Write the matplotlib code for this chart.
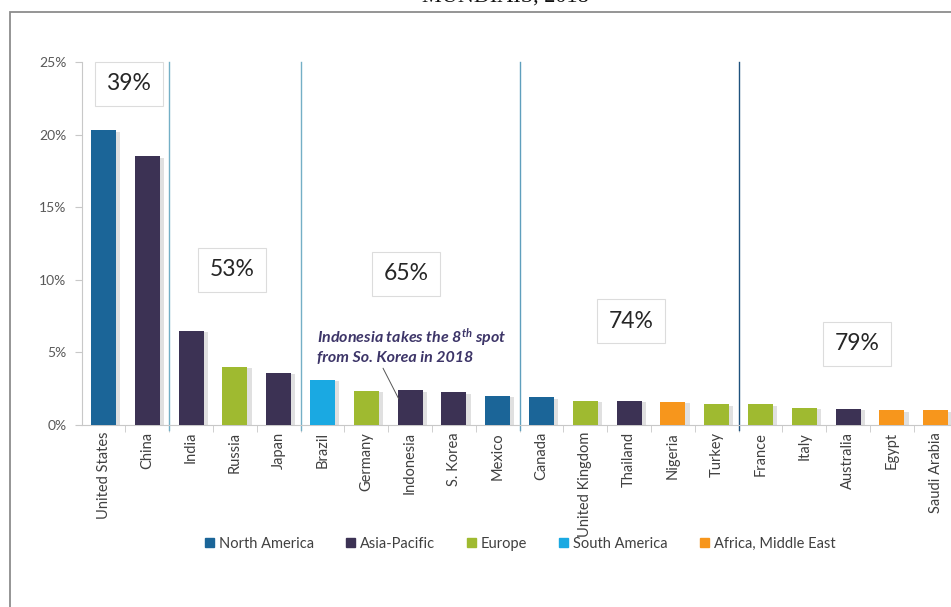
import matplotlib.pyplot as plt
import matplotlib.patheffects as pe
from matplotlib.patches import Rectangle, Patch
from matplotlib.ticker import FuncFormatter, FixedLocator

plt.rcParams['font.family'] = ['Lato', 'DejaVu Sans']
plt.rcParams['mathtext.fontset'] = 'custom'
plt.rcParams['mathtext.it'] = 'Lato:bold:italic'
plt.rcParams['mathtext.rm'] = 'Lato:bold:italic'

# share of world volume by country, 2018 (%)
countries = ['United States', 'China', 'India', 'Russia', 'Japan', 'Brazil',
             'Germany', 'Indonesia', 'S. Korea', 'Mexico', 'Canada',
             'United Kingdom', 'Thailand', 'Nigeria', 'Turkey', 'France',
             'Italy', 'Australia', 'Egypt', 'Saudi Arabia']
shares = [20.3, 18.5, 6.5, 4.0, 3.6, 3.1, 2.35, 2.4, 2.25, 2.0, 1.9,
          1.65, 1.65, 1.6, 1.42, 1.42, 1.2, 1.1, 1.0, 1.0]
regions = ['North America', 'Asia-Pacific', 'Asia-Pacific', 'Europe', 'Asia-Pacific',
           'South America', 'Europe', 'Asia-Pacific', 'Asia-Pacific', 'North America',
           'North America', 'Europe', 'Asia-Pacific', 'Africa, Middle East', 'Europe',
           'Europe', 'Europe', 'Asia-Pacific', 'Africa, Middle East', 'Africa, Middle East']

# cumulative share reached by each group of countries
group_ends = [1, 4, 9, 14, 19]
cum_labels = ['39%', '53%', '65%', '74%', '79%']

region_colors = {
    'North America': '#1b6598',
    'Asia-Pacific': '#3c3254',
    'Europe': '#9fba30',
    'South America': '#1aa9e2',
    'Africa, Middle East': '#f7961c',
}

fig = plt.figure(figsize=(9.51, 6.07), dpi=100)
ax = fig.add_axes([81.6 / 951, 182 / 607, 876 / 951, 363 / 607])

x = list(range(len(countries)))
bars = ax.bar(x, shares, width=0.57, color=[region_colors[r] for r in regions], zorder=3)
for b in bars:
    b.set_path_effects([pe.SimplePatchShadow(offset=(3, -1), shadow_rgbFace='#999999', alpha=0.3),
                        pe.Normal()])

ax.set_xlim(-0.5, len(countries) - 0.5)
ax.set_ylim(0, 25)

# group separators
sep_colors = ['#74afc6', '#74afc6', '#5f9fbd', '#1f527e']
for end, c in zip(group_ends[:-1], sep_colors):
    ax.axvline(end + 0.5, ymin=-0.014, ymax=1, color=c, lw=1.0, clip_on=False, zorder=2)

# cumulative share boxes
box_pos = [(0.58, 23.5), (2.93, 10.7), (6.91, 10.4), (12.04, 7.15), (17.2, 5.6)]
for (bx, by), lab in zip(box_pos, cum_labels):
    ax.text(bx, by, lab, ha='center', va='center', fontsize=16.5, color='#262626',
            bbox=dict(boxstyle='square,pad=0.5', fc='white', ec='#dcdcdc', lw=0.8), zorder=4)

# note on Indonesia
ax.annotate('Indonesia takes the 8$^{th}$ spot\nfrom So. Korea in 2018',
            xy=(6.74, 1.8), xytext=(4.88, 5.45), ha='left', va='center',
            fontsize=11.5, fontweight='bold', fontstyle='italic', color='#3d3568',
            linespacing=1.2,
            arrowprops=dict(arrowstyle='-', color='#555555', lw=0.7,
                            shrinkA=0, shrinkB=0, relpos=(0.34, 0.0)), zorder=5)

# axes styling
for side in ['top', 'right']:
    ax.spines[side].set_visible(False)
ax.spines['left'].set_color('#c8c8c8')
ax.spines['bottom'].set_color('#c8c8c8')
ax.yaxis.set_major_locator(FixedLocator([0, 5, 10, 15, 20, 25]))
ax.yaxis.set_major_formatter(FuncFormatter(lambda v, _: f'{v:.0f}%'))
ax.tick_params(axis='y', length=5, color='#c8c8c8', labelsize=10, labelcolor='#595959', pad=6)

ax.set_xticks(x)
ax.set_xticklabels(countries, rotation=90, fontsize=10.5, color='#404040')
ax.tick_params(axis='x', length=0, pad=5)
ax.set_xticks([i + 0.5 for i in x[:-1]], minor=True)
ax.tick_params(axis='x', which='minor', length=5, color='#c8c8c8')

handles = [Patch(color=c, label=r) for r, c in region_colors.items()]
fig.legend(handles=handles, loc='center', bbox_to_anchor=(0.547, 0.104), ncol=5,
           frameon=False, fontsize=10.5, handlelength=0.6, handleheight=0.6,
           handletextpad=0.35, columnspacing=2.2, labelcolor='#404040')

# outer frame and clipped heading
fig.patches.append(Rectangle((10 / 951, -0.05), 1.0, 1.05 - 12 / 607,
                             transform=fig.transFigure, fill=False,
                             ec='#8c8c8c', lw=1.3))
fig.text(505 / 951, 1 - 2 / 607, 'MUNDIAIS, 2018', ha='center', va='baseline',
         fontsize=16, family='Liberation Serif', color='#111111')

fig.savefig('out.png', dpi=100)
